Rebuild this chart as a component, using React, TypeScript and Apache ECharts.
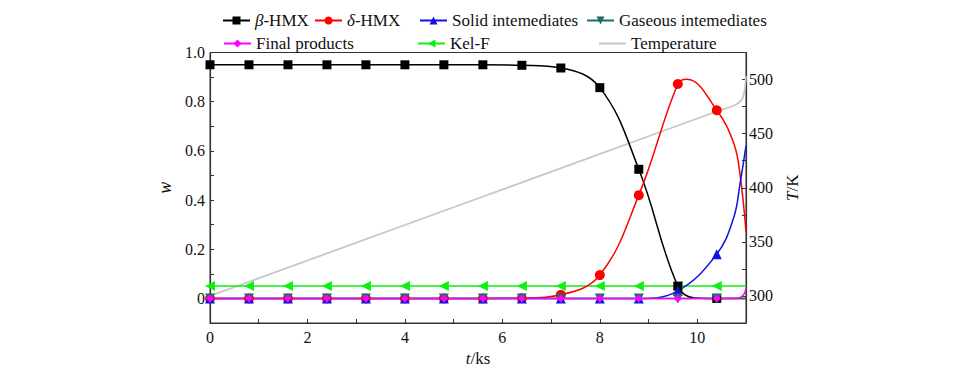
import React, { useEffect, useRef } from "react";
import * as echarts from "echarts";

// marker times (ks)
const T_MARK = [0, 0.8, 1.6, 2.4, 3.2, 4.0, 4.8, 5.6, 6.4, 7.2, 8.0, 8.8, 9.6, 10.4];

// mass fractions at marker times
const betaMark = [0.95, 0.95, 0.95, 0.95, 0.95, 0.95, 0.95, 0.95, 0.948, 0.937, 0.857, 0.525, 0.05, 0.0];
const deltaMark = [0, 0, 0, 0, 0, 0, 0, 0, 0.001, 0.015, 0.095, 0.42, 0.872, 0.765];
const solidMark = [0, 0, 0, 0, 0, 0, 0, 0, 0, 0, 0, 0, 0.031, 0.18];
const gasMark = [0, 0, 0, 0, 0, 0, 0, 0, 0, 0, 0, 0, 0, 0];
const finalMark = [0, 0, 0, 0, 0, 0, 0, 0, 0, 0, 0, 0, 0, 0];
const kelMark = [0.05, 0.05, 0.05, 0.05, 0.05, 0.05, 0.05, 0.05, 0.05, 0.05, 0.05, 0.05, 0.05, 0.05];

// curve points read between / after markers (no symbol)
const betaExtra = [[9.95, 0.002], [11, 0]];
const deltaExtra = [[9.79, 0.891], [10.75, 0.63], [10.88, 0.5], [11, 0.27]];
const solidExtra = [[10.75, 0.33], [10.88, 0.47], [11, 0.62]];
const gasExtra = [[11, 0]];
const finalExtra = [[10.85, 0.002], [10.95, 0.015], [11, 0.04]];
const kelExtra = [[11, 0.05]];

// temperature (K)
const tempT = [0, 5, 10, 10.5, 10.8, 10.92, 10.97, 11];
const tempK = [300, 382, 464, 472, 477, 482, 490, 503];

// axis ticks
const xLabels = [0, 2, 4, 6, 8, 10];
const wLabels = [0, 0.2, 0.4, 0.6, 0.8, 1.0];
const kLabels = [300, 350, 400, 450, 500];

const FONT = "'Liberation Serif', 'Times New Roman', 'DejaVu Serif', serif";

function build(marks: number[], extra: number[][]) {
  const pts: any[] = marks.map((w, i) => ({ value: [T_MARK[i], w] }));
  extra.forEach((p) => pts.push({ value: [p[0], p[1]], symbol: "none" }));
  pts.sort((a, b) => a.value[0] - b.value[0]);
  return pts;
}

export default function App() {
  const ref = useRef<HTMLDivElement>(null);
  useEffect(() => {
    if (!ref.current) return;
    const chart = echarts.init(ref.current, null, { renderer: "svg" });
    const axisColor = "#333";
    const lineSeries = (name: string, color: string, symbol: string, size: number, data: any[], rotate = 0) => ({
      name,
      type: "line",
      data,
      smooth: 0.4,
      symbol,
      symbolSize: size,
      symbolRotate: rotate,
      showSymbol: true,
      itemStyle: { color },
      lineStyle: { color, width: 1.5 },
      emphasis: { disabled: true },
    });
    const legendCommon = {
      itemWidth: 27,
      itemHeight: 10,
      itemGap: 4,
      textStyle: {
        fontFamily: FONT,
        fontSize: 17,
        color: "#111",
        rich: { i: { fontFamily: FONT, fontSize: 17, fontStyle: "italic", color: "#111" } },
      },
      formatter: (n: string) =>
        n === "β-HMX" ? "{i|β}-HMX" : n === "δ-HMX" ? "{i|δ}-HMX" : n,
    };
    const legends = [
      { name: "β-HMX", left: 217, top: 7 },
      { name: "δ-HMX", left: 309, top: 7 },
      { name: "Solid intemediates", left: 414, top: 7 },
      { name: "Gaseous intemediates", left: 581, top: 7 },
      { name: "Final products", left: 218, top: 30 },
      { name: "Kel-F", left: 412, top: 30 },
      { name: "Temperature", left: 593, top: 30 },
    ].map((l) => ({
      ...legendCommon,
      data: [l.name === "Temperature" ? { name: l.name, itemStyle: { opacity: 0 } } : l.name],
      left: l.left,
      top: l.top,
    }));

    chart.setOption({
      animation: false,
      backgroundColor: "#fff",
      textStyle: { fontFamily: FONT },
      legend: legends,
      grid: { left: 210, top: 52.5, width: 536, height: 270.5, show: true, borderColor: axisColor, borderWidth: 1, backgroundColor: "transparent" },
      xAxis: {
        type: "value",
        min: 0,
        max: 11,
        interval: 1,
        name: "{i|t}/ks",
        nameLocation: "middle",
        nameGap: 24,
        nameTextStyle: {
          fontFamily: FONT,
          fontSize: 17,
          color: "#111",
          rich: { i: { fontFamily: FONT, fontSize: 17, fontStyle: "italic", color: "#111" } },
        },
        axisLine: { onZero: false, lineStyle: { color: axisColor, width: 1.2 } },
        axisTick: { inside: true, length: 4, lineStyle: { color: axisColor } },
        splitLine: { show: false },
        axisLabel: {
          fontFamily: FONT,
          fontSize: 16,
          color: "#111",
          margin: 6,
          formatter: (v: number) => (xLabels.includes(Math.round(v)) ? String(Math.round(v)) : ""),
        },
      },
      yAxis: [
        {
          type: "value",
          min: -0.1,
          max: 1.0,
          interval: 0.1,
          name: "w",
          nameLocation: "middle",
          nameRotate: 90,
          nameGap: 29,
          nameTextStyle: { fontFamily: FONT, fontSize: 18, fontStyle: "italic", color: "#111" },
          axisLine: { show: true, onZero: false, lineStyle: { color: axisColor, width: 1.2 } },
          axisTick: { show: true, inside: true, length: 4, lineStyle: { color: axisColor } },
          splitLine: { show: false },
          axisLabel: {
            fontFamily: FONT,
            fontSize: 16,
            color: "#111",
            margin: 5,
            formatter: (v: number) => {
              const r = Math.round(v * 10) / 10;
              const hit = wLabels.find((x) => Math.abs(x - r) < 1e-6);
              if (hit === undefined) return "";
              return hit === 0 ? "0" : hit.toFixed(1);
            },
          },
        },
        {
          type: "value",
          min: 275,
          max: 525,
          interval: 25,
          position: "right",
          name: "{i|T}/K",
          nameLocation: "middle",
          nameRotate: 90,
          nameGap: 38,
          nameTextStyle: {
            fontFamily: FONT,
            fontSize: 17,
            color: "#111",
            rich: { i: { fontFamily: FONT, fontSize: 17, fontStyle: "italic", color: "#111" } },
          },
          axisLine: { show: true, onZero: false, lineStyle: { color: axisColor, width: 1.2 } },
          axisTick: { show: true, inside: true, length: 4, lineStyle: { color: axisColor } },
          splitLine: { show: false },
          axisLabel: {
            fontFamily: FONT,
            fontSize: 16,
            color: "#111",
            margin: 3,
            formatter: (v: number) => (kLabels.includes(Math.round(v)) ? String(Math.round(v)) : ""),
          },
        },
      ],
      series: [
        {
          name: "Temperature",
          type: "line",
          yAxisIndex: 1,
          data: tempT.map((t, i) => [t, tempK[i]]),
          smooth: 0.3,
          symbol: "none",
          itemStyle: { color: "#c8c8c8" },
          lineStyle: { color: "#c8c8c8", width: 1.8 },
          emphasis: { disabled: true },
        },
        lineSeries("Kel-F", "#11ee11", "triangle", 10, build(kelMark, kelExtra), 90),
        lineSeries("β-HMX", "#000000", "rect", 9, build(betaMark, betaExtra)),
        lineSeries("δ-HMX", "#ff0000", "circle", 10, build(deltaMark, deltaExtra)),
        lineSeries("Solid intemediates", "#1010e0", "triangle", 10, build(solidMark, solidExtra)),
        lineSeries("Gaseous intemediates", "#1d6b6b", "triangle", 10, build(gasMark, gasExtra), 180),
        lineSeries("Final products", "#ff00ff", "diamond", 8, build(finalMark, finalExtra)),
      ],
    });
    return () => chart.dispose();
  }, []);
  return <div ref={ref} style={{ position: "fixed", left: 0, top: 0, width: 962, height: 374 }} />;
}
